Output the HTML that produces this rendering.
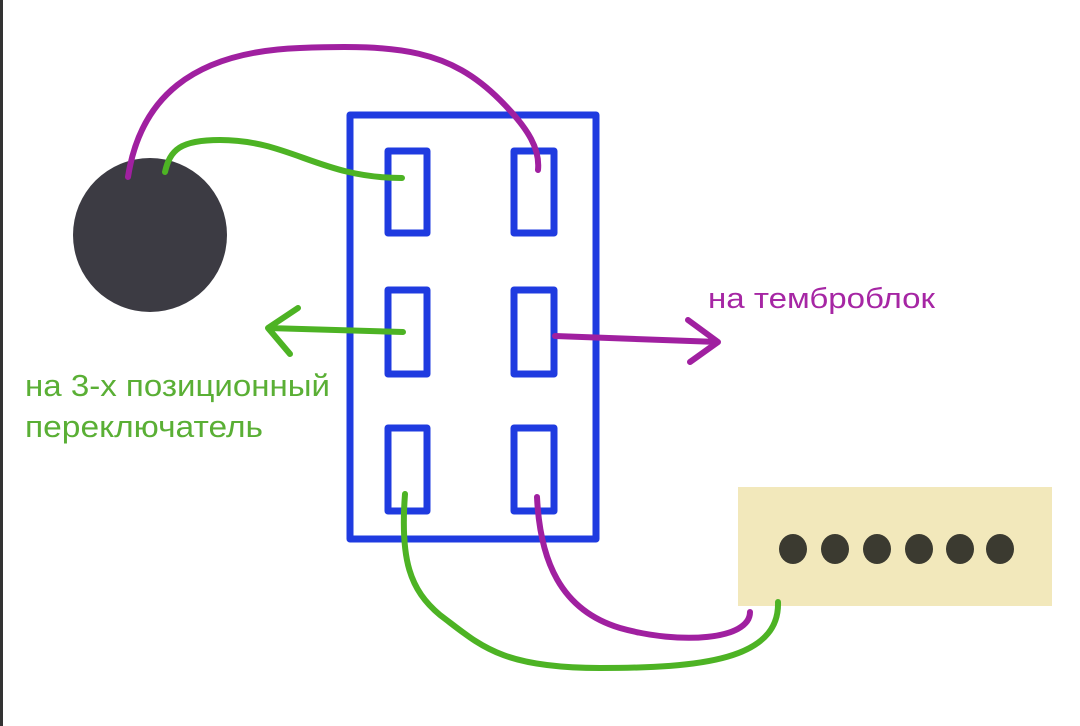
<!DOCTYPE html>
<html><head><meta charset="utf-8"><style>
body{margin:0;background:#fff;width:1080px;height:726px;overflow:hidden}
svg{display:block}
text{font-family:"Liberation Sans",sans-serif}
</style></head><body>
<svg width="1080" height="726" viewBox="0 0 1080 726">
<rect x="0" y="0" width="3" height="726" fill="#333"/>
<circle cx="150" cy="235" r="77" fill="#3c3b43"/>
<rect x="738" y="487" width="314" height="119" fill="#f2e8bb"/>
<g fill="#3b3a30">
<ellipse cx="793" cy="549" rx="14" ry="15"/><ellipse cx="835" cy="549" rx="14" ry="15"/>
<ellipse cx="877" cy="549" rx="14" ry="15"/><ellipse cx="919" cy="549" rx="14" ry="15"/>
<ellipse cx="960" cy="549" rx="14" ry="15"/><ellipse cx="1000" cy="549" rx="14" ry="15"/>
</g>
<g fill="none" stroke="#1f3be0" stroke-width="7" stroke-linejoin="round">
<rect x="350" y="115" width="246" height="424"/>
<rect x="388" y="151" width="39" height="82"/><rect x="514" y="151" width="40" height="82"/>
<rect x="388" y="290" width="39" height="84"/><rect x="514" y="290" width="40" height="84"/>
<rect x="388" y="428" width="39" height="83"/><rect x="514" y="428" width="40" height="83"/>
</g>
<g fill="none" stroke-width="6" stroke-linecap="round" stroke-linejoin="round">
<path d="M128,177 C140,100 190,52 300,48 C400,44 450,50 500,100 C530,130 540,150 538,170" stroke="#a020a0"/>
<path d="M165,172 C170,150 180,140 220,140 C290,140 320,178 402,178" stroke="#4db324"/>
<path d="M403,332 L268,328 M298,308 L268,328 L290,354" stroke="#4db324"/>
<path d="M555,336 L718,342 M688,320 L718,342 L690,362" stroke="#a020a0"/>
<path d="M405,494 C400,560 410,590 440,615 C480,645 500,668 600,668 C700,668 780,660 778,602" stroke="#4db324"/>
<path d="M537,497 C540,560 560,610 620,628 C680,645 750,640 750,612" stroke="#a020a0"/>
</g>
<text x="708" y="308" font-size="29" fill="#a626a4" textLength="227" lengthAdjust="spacingAndGlyphs">на темброблок</text>
<text x="25" y="396" font-size="31" fill="#5aaf35" textLength="305" lengthAdjust="spacingAndGlyphs">на 3-х позиционный</text>
<text x="25" y="437" font-size="31" fill="#5aaf35" textLength="238" lengthAdjust="spacingAndGlyphs">переключатель</text>
</svg>
</body></html>
